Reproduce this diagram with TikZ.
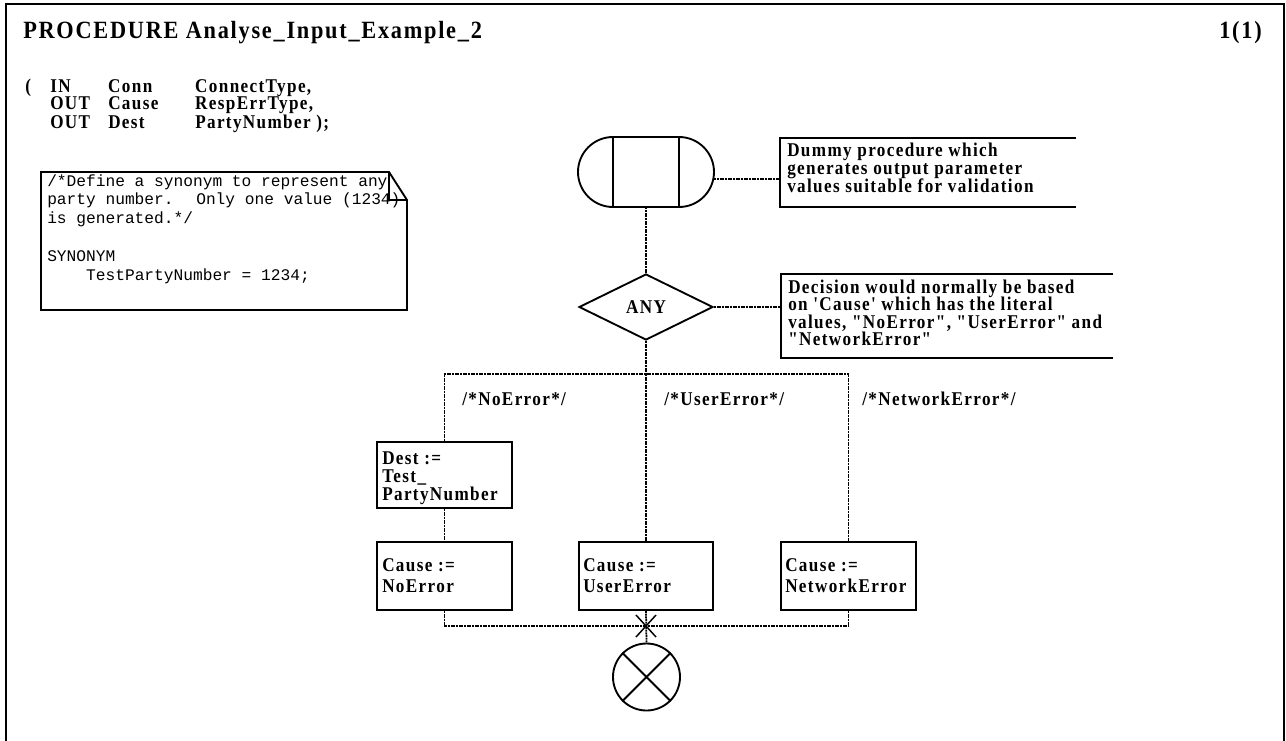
\documentclass[tikz,border=0pt]{standalone}
\usepackage{fontspec}
\usetikzlibrary{shapes.geometric,fit,calc}
% narrow bold serif, slightly tracked, straight quotes kept
\newfontfamily\sdlserif[Ligatures=TeXOff,FakeStretch=0.88,LetterSpace=7]{Liberation Serif}
\newfontfamily\sdlhead[Ligatures=TeXOff,FakeStretch=0.9,LetterSpace=7]{Liberation Serif}
\newfontfamily\notemono[Ligatures=TeXOff]{Liberation Mono}
\tikzset{
  sdlfont/.style={font=\sdlserif\bfseries\fontsize{14.6pt}{16pt}\selectfont},
  sdl/.style={sdlfont, inner sep=0pt, anchor=base west},
  sdltitle/.style={inner sep=0pt, anchor=base west,
    font=\sdlhead\bfseries\fontsize{18.6pt}{21pt}\selectfont},
  notetxt/.style={inner sep=0pt, anchor=base west, font=\notemono\fontsize{12.15pt}{14pt}\selectfont},
  symline/.style={line width=1.4pt},
  flow/.style={line width=1.3pt, dash pattern=on 1.5pt off 0.5pt},
  frameline/.style={line width=1.5pt},
  taskbox/.style={draw, symline, inner sep=0pt},
  anchorbox/.style={inner sep=0pt},
}
\begin{document}
\begin{tikzpicture}[x=0.75pt,y=-0.75pt]
\useasboundingbox (0,0) rectangle (1286,740);

% page frame, open at the bottom
\draw[frameline] (6,745) -- (6,4) -- (1284,4) -- (1284,745);

% heading and parameters
\node[sdltitle] (title) at (23,38.5) {PROCEDURE Analyse\_Input\_Example\_2};
\node[sdltitle, anchor=base east] (page) at (1262,38.5) {1(1)};
\node[sdl] (par1) at (25,92) {\makebox[18.75pt][l]{(}\makebox[43.5pt][l]{IN}\makebox[65.25pt][l]{Conn}ConnectType,};
\node[sdl] (par2) at (50,109) {\makebox[43.5pt][l]{OUT}\makebox[65.25pt][l]{Cause}RespErrType,};
\node[sdl] (par3) at (50,128) {\makebox[43.5pt][l]{OUT}\makebox[65.25pt][l]{Dest}PartyNumber );};

% text symbol with folded corner
\draw[symline] (41,172) -- (389,172) -- (407,200) -- (407,310) -- (41,310) -- cycle;
\draw[symline] (389,172) -- (389,200) -- (407,200);
\node[anchorbox, fit={(41,172) (407,310)}] (note) {};
\node[notetxt] (n1) at (47,186) {/*Define a synonym to represent any};
\node[notetxt] (n2) at (47,204.8) {party number.~ Only one value (1234)};
\node[notetxt] (n3) at (47,223.6) {is generated.*/};
\node[notetxt] (n4) at (47,261.2) {SYNONYM};
\node[notetxt] (n5) at (85.9,280) {TestPartyNumber = 1234;};

% procedure start
\draw[symline] (613,137) -- (679,137) arc[start angle=-90,end angle=90,radius=35]
  -- (613,207) arc[start angle=90,end angle=270,radius=35] -- cycle;
\draw[symline] (613,137) -- (613,207) (679,137) -- (679,207);
\node[anchorbox, fit={(578,137) (714,207)}] (start) {};

% comment on the start symbol
\draw[symline] (1076,138) -- (780,138) -- (780,207) -- (1076,207);
\node[anchorbox, fit={(780,138) (1076,207)}] (cm1) {};
\node[sdl] (cm1a) at (787,156) {Dummy procedure which};
\node[sdl] (cm1b) at (787,174) {generates output parameter};
\node[sdl] (cm1c) at (787,192) {values suitable for validation};
\coordinate (s1) at ($(start.east)+(0,7)$);
\draw[flow] (s1) -- (s1 -| cm1.west);

% decision
\node[diamond, draw, symline, sdlfont, aspect=2, inner sep=0pt,
      minimum width=100.5pt, minimum height=49.5pt] (any) at (646,307) {ANY};
\draw[flow] (start.south) -- (any.north);

% comment on the decision
\draw[symline] (1113,274) -- (781,274) -- (781,358) -- (1113,358);
\node[anchorbox, fit={(781,274) (1113,358)}] (cm2) {};
\node[sdl] (cm2a) at (788,293) {Decision would normally be based};
\node[sdl] (cm2b) at (788,310.5) {on 'Cause' which has the literal};
\node[sdl] (cm2c) at (788,328) {values, "NoError", "UserError" and};
\node[sdl] (cm2d) at (788,345.5) {"NetworkError"};
\draw[flow] (any.east) -- (any.east -| cm2.west);

% task boxes
\node[taskbox, fit={(377,442) (512,508)}] (dest) {};
\node[taskbox, fit={(377,542) (512,610)}] (c1) {};
\node[taskbox, fit={(579,542) (713,610)}] (c2) {};
\node[taskbox, fit={(781,542) (916,610)}] (c3) {};
\node[sdl] (dest1) at (382,464) {Dest :=};
\node[sdl] (dest2) at (382,482) {Test\_};
\node[sdl] (dest3) at (382,500) {PartyNumber};
\node[sdl] (c1a) at (382,571.5) {Cause :=};
\node[sdl] (c1b) at (382,592) {NoError};
\node[sdl] (c2a) at (583,571.5) {Cause :=};
\node[sdl] (c2b) at (583,592) {UserError};
\node[sdl] (c3a) at (785,571.5) {Cause :=};
\node[sdl] (c3b) at (785,592) {NetworkError};

% branch answers
\node[sdl] (lb1) at (462,405) {/*NoError*/};
\node[sdl] (lb2) at (664,405) {/*UserError*/};
\node[sdl] (lb3) at (862,405) {/*NetworkError*/};

% procedure return
\node[circle, draw, symline, minimum size=50.25pt, inner sep=0pt] (stop) at (646.5,677) {};
\draw[symline] (stop.north west) -- (stop.south east) (stop.north east) -- (stop.south west);

% flow lines of the branches
\coordinate (split) at (646,374);
\coordinate (join) at (646,626);
\draw[flow] (any.south) -- (split);
\draw[flow] (dest.north) |- (split) -| (c3.north);
\draw[flow] (split) -- (c2.north);
\draw[flow] (dest.south) -- (c1.north);
\draw[flow] (c1.south) |- (join) -| (c3.south);
\draw[flow] (c2.south) -- (stop.north);
\draw[line width=1.1pt] ($(join)+(-10,-11)$) -- ($(join)+(10,11)$)
  ($(join)+(10,-11)$) -- ($(join)+(-10,11)$);
\end{tikzpicture}
\end{document}
